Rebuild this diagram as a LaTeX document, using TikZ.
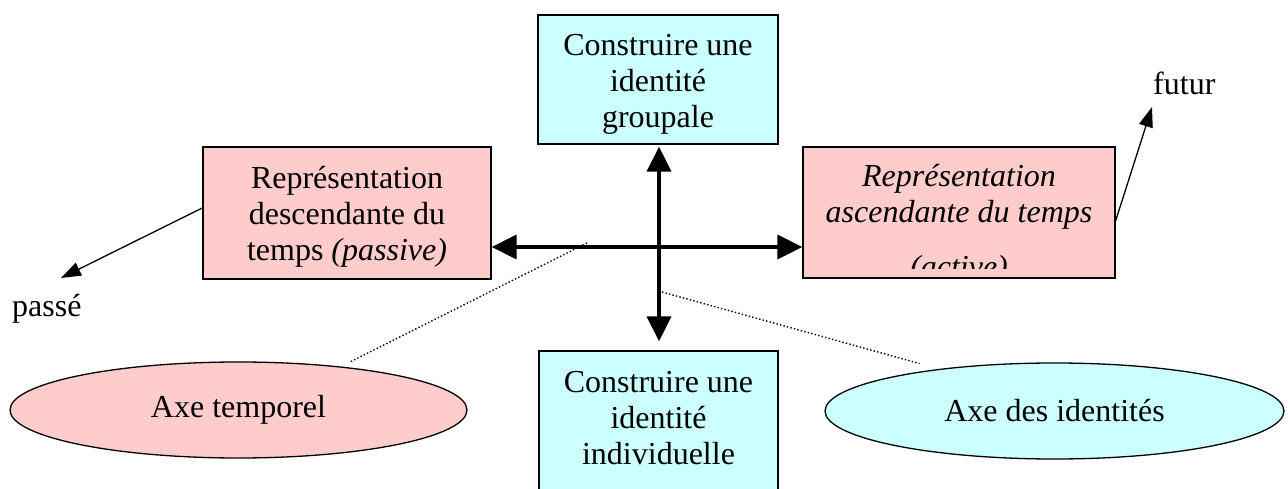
\documentclass[tikz,border=0pt]{standalone}
\usepackage{fontspec}
\setmainfont{Liberation Serif}
\usetikzlibrary{arrows.meta,shapes.geometric}
\definecolor{rosefill}{RGB}{255,204,204}
\definecolor{cyanfill}{RGB}{204,255,255}
% invisible strut fixing the top of the first line of a text block
\newcommand\firstline{\rule{0pt}{25pt}}
\begin{document}
\begin{tikzpicture}[x=1pt,y=-1pt,
  every node/.style={font=\fontsize{32}{36}\selectfont},
  box/.style={draw=black, line width=1.3pt, rectangle, inner sep=0pt},
  timebox/.style={box, fill=rosefill},
  idbox/.style={box, fill=cyanfill},
  oval/.style={draw=black, line width=1.3pt, ellipse, inner sep=0pt},
  boxtext/.style={align=center, anchor=north, inner sep=0pt},
  axis/.style={line width=3.5pt,
    {Triangle[length=25pt,width=24pt]}-{Triangle[length=25pt,width=24pt]}},
  pointer/.style={line width=1.3pt, -{Triangle[length=20pt,width=14pt]}},
  guide/.style={line width=1.4pt, dash pattern=on 1.4pt off 2.2pt}
]
\clip (0,0) rectangle (1288,489);

% the four boxes around the cross
\node[idbox, minimum width=240pt, minimum height=129pt] (grp) at (658,79.5) {};
\node[idbox, minimum width=239pt, minimum height=149pt] (ind) at (658.5,425.5) {};
\node[timebox, minimum width=288pt, minimum height=132pt] (desc) at (347,213) {};
\node[timebox, minimum width=312pt, minimum height=131pt] (asc) at (959,212.5) {};

\node[boxtext] (grpText) at (658,30) {\firstline Construire une\\identité\\groupale};
\node[boxtext] (indText) at (658.5,367) {\firstline Construire une\\identité\\individuelle};
\node[boxtext] (descText) at (347,163)
  {\firstline Représentation\\descendante du\\temps \textit{(passive)}};
\begin{scope}
  \clip (803,147) rectangle (1115,268);
  \node[boxtext, font=\fontsize{32}{36}\selectfont\itshape] (ascText) at (959,161)
    {\firstline Représentation\\ascendante du temps\\[19pt](active)};
\end{scope}

% the two axis labels
\node[oval, fill=rosefill, minimum width=457pt, minimum height=96pt] (axT)
  at (238.5,410) {Axe temporel};
\node[oval, fill=cyanfill, minimum width=459pt, minimum height=96pt] (axI)
  at (1054.5,411) {Axe des identités};

% past and future
\node[anchor=base west, inner sep=0pt] (past) at (12,316) {passé};
\node[anchor=base west, inner sep=0pt] (fut) at (1153,95) {futur};

\coordinate (cross) at (659,247);
\coordinate (pastTip) at (61,278);
\coordinate (futTip) at (1152,107);
\coordinate (tGuide) at (587,243);
\coordinate (iGuide) at (662,292);

% the cross of axes
\draw[axis] (desc.east |- cross) -- (asc.west |- cross);
\draw[axis, shorten <=2pt, shorten >=9pt] (grp.south -| cross) -- (ind.north -| cross);

\draw[pointer] (desc.178) -- (pastTip);
\draw[pointer] (asc.-3.85) -- (futTip);

\draw[guide, shorten >=10pt] (tGuide) -- (axT.23);
\draw[guide, shorten >=20pt] (iGuide) -- (axI.160);
\end{tikzpicture}
\end{document}
